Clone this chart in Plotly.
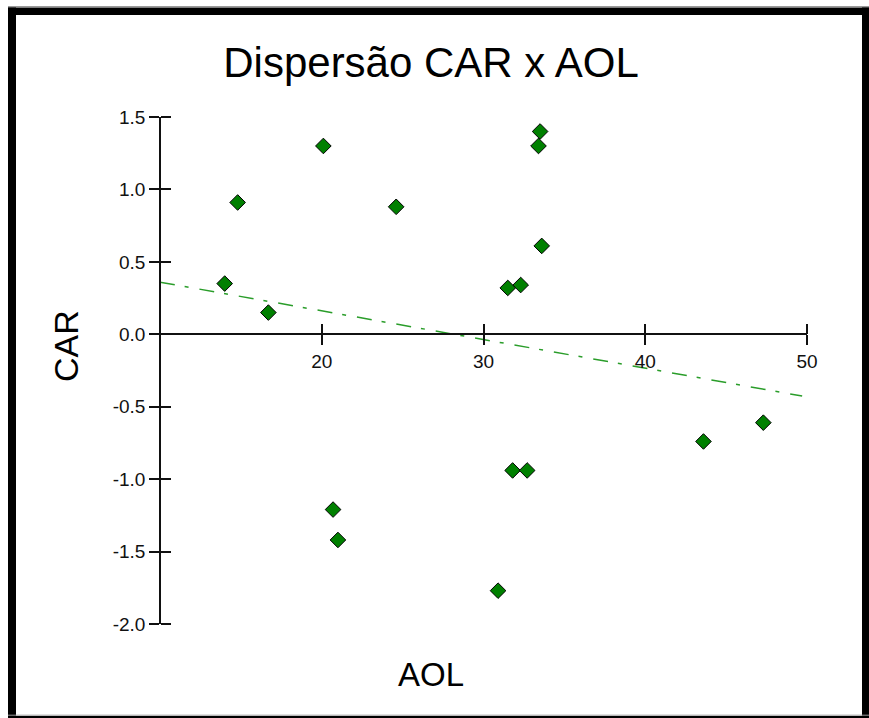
import numpy as np
import plotly.graph_objects as go

# ---- data ----
aol = [14.0, 14.8, 16.7, 20.1, 24.6, 33.5, 33.4, 33.6, 31.5, 32.3,
       20.7, 21.0, 31.8, 32.7, 30.9, 43.6, 47.3]
car = [0.35, 0.91, 0.15, 1.30, 0.88, 1.40, 1.30, 0.61, 0.32, 0.34,
       -1.21, -1.42, -0.94, -0.94, -1.77, -0.74, -0.61]
x_ticks = [20, 30, 40, 50]
y_ticks = [-2.0, -1.5, -1.0, -0.5, 0.0, 0.5, 1.0, 1.5]
y_tick_labels = [f"{v:.1f}" for v in y_ticks]
x_range = [10, 50]
y_range = [-2.0, 1.5]
trend_x_extent = [10, 49.7]

# ---- layout geometry ----
W, H = 869, 718
ML, MR, MT, MB = 160, 62, 117, 94
PW = W - ML - MR
PH = H - MT - MB


def fx(px):
    return (px - ML) / PW


def fy(py):
    return (H - MB - py) / PH


slope, intercept = np.polyfit(aol, car, 1)
tx = np.array(trend_x_extent)
ty = intercept + slope * tx

FONT = "Liberation Sans, Arial, sans-serif"
INK = "#111111"

fig = go.Figure()
fig.add_trace(go.Scatter(
    x=aol, y=car, mode="markers",
    marker=dict(symbol="diamond", size=12, color="#008000",
                line=dict(color="black", width=1)),
    showlegend=False, hoverinfo="skip"))
fig.add_trace(go.Scatter(
    x=tx, y=ty, mode="lines", xaxis="x2", yaxis="y2",
    line=dict(color="#2a9d2a", width=1.5, dash="15px,10px,4px,11px"),
    showlegend=False, hoverinfo="skip"))

xpos = (0 - y_range[0]) / (y_range[1] - y_range[0])
common = dict(showgrid=False, zeroline=False, tickwidth=1.5, ticklen=10,
              tickcolor=INK, tickfont=dict(family=FONT, size=19, color=INK))

fig.update_layout(
    width=W, height=H,
    margin=dict(l=ML, r=MR, t=MT, b=MB, pad=0),
    paper_bgcolor="white", plot_bgcolor="white",
    xaxis=dict(range=x_range, tickvals=x_ticks, ticks="outside",
               showline=True, linecolor=INK, linewidth=1.5,
               anchor="free", position=xpos, **common),
    # second copy of the x axis: its ticks point up, so the ticks cross the line
    xaxis2=dict(range=x_range, tickvals=x_ticks, ticks="outside", side="top",
                showticklabels=False, showline=False, overlaying="x",
                anchor="free", position=xpos, **common),
    yaxis=dict(range=y_range, tickvals=y_ticks, ticktext=y_tick_labels,
               ticks="outside", showline=True, linecolor=INK, linewidth=1.5,
               anchor="free", position=0, **common),
    # second copy of the y axis: its ticks point right
    yaxis2=dict(range=y_range, tickvals=y_ticks, ticks="outside", side="right",
                showticklabels=False, showline=False, overlaying="y",
                anchor="free", position=0, **common),
    title=dict(text="Dispersão CAR x AOL", x=431 / W, xref="container",
               y=1 - 62 / H, yref="container", xanchor="center",
               yanchor="middle", font=dict(family=FONT, size=42, color="black")),
    annotations=[
        dict(text="AOL", x=fx(430.5), y=fy(674), xref="paper", yref="paper",
             showarrow=False, xanchor="center", yanchor="middle",
             font=dict(family=FONT, size=33, color="black")),
        dict(text="CAR", x=fx(66), y=fy(346), xref="paper", yref="paper",
             showarrow=False, xanchor="center", yanchor="middle", textangle=-90,
             font=dict(family=FONT, size=34, color="black")),
    ],
)

# frame around the picture
frame = [
    (8, 7.5, 875, 15),     # top
    (8, 7.5, 16, 725),     # left
    (862, 7.5, 875, 725),  # right
    (8, 716, 875, 725),    # bottom
]
for x0, y0, x1, y1 in frame:
    fig.add_shape(type="rect", xref="paper", yref="paper",
                  x0=fx(x0), x1=fx(x1), y0=fy(y1), y1=fy(y0),
                  fillcolor="black", line=dict(width=0), layer="above")
for yy in (6.5, 715.2):
    fig.add_shape(type="line", xref="paper", yref="paper",
                  x0=fx(8), x1=fx(875), y0=fy(yy), y1=fy(yy),
                  line=dict(color="#9a9a9a", width=1), layer="above")

fig.write_html("out.html", config={"displayModeBar": False},
               post_script="document.body.style.margin='0';")
